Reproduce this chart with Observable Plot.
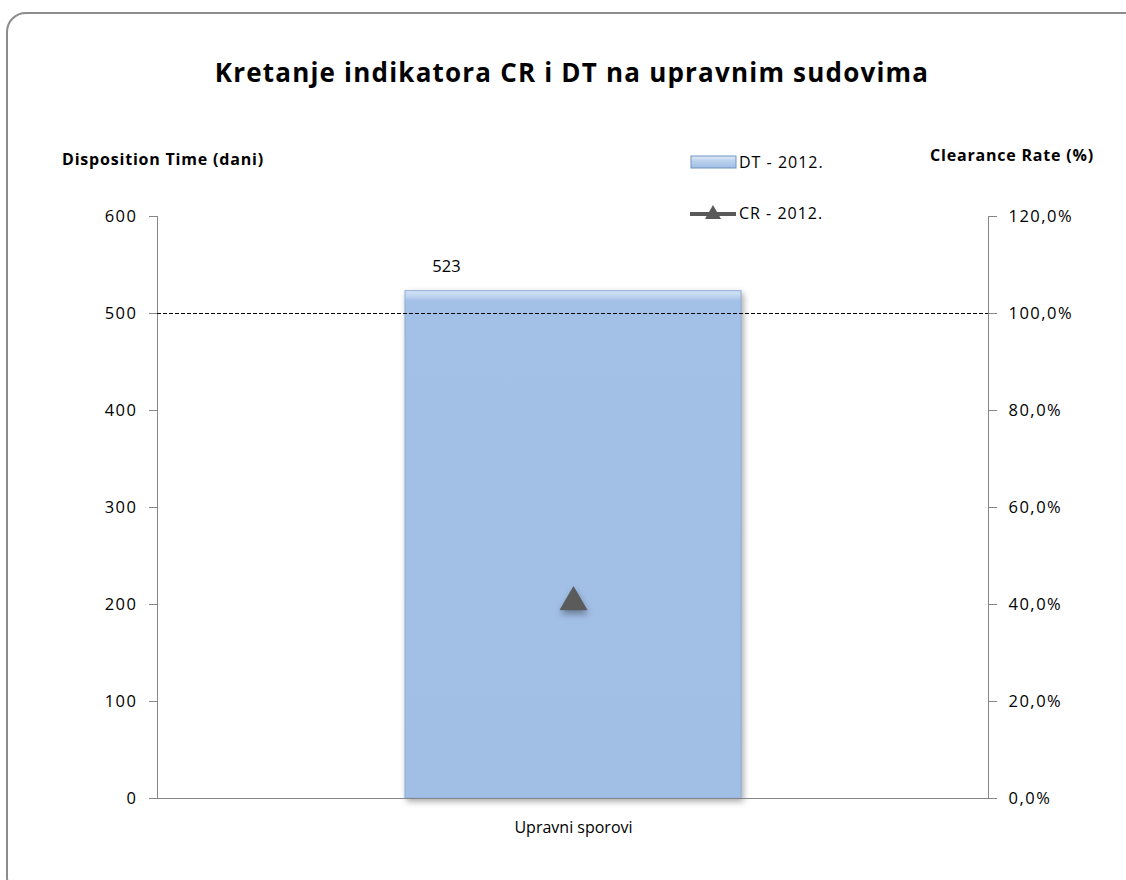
<!DOCTYPE html>
<html>
<head>
<meta charset="utf-8">
<script src="https://cdn.jsdelivr.net/npm/d3@7"></script>
<script src="https://cdn.jsdelivr.net/npm/@observablehq/plot@0.6"></script>
<style>
  html, body { margin: 0; padding: 0; background: #fff; }
  #wrap { position: relative; width: 1126px; height: 880px; overflow: hidden; font-family: "Open Sans", sans-serif; }
  #border { position: absolute; left: 6px; top: 12px; width: 1150px; height: 885px; border: 2px solid #8c8c8c; border-radius: 20px; box-sizing: border-box; }
  #title { position: absolute; left: 0; width: 1144px; top: 54px; text-align: center; font-weight: bold; font-size: 26px; letter-spacing: 1.2px; color: #000; }
  .axlab { position: absolute; font-weight: bold; font-size: 16px; letter-spacing: 0.8px; color: #000; }
  #chart { position: absolute; left: 0; top: 140px; }
  #chart svg [aria-label="y-axis tick"] { stroke: #868686; }
  #chart svg [aria-label="y-axis tick label"] { letter-spacing: 1.5px; }
  #chart svg [aria-label="bar"] rect { filter: drop-shadow(2px 3px 3px rgba(0,0,0,0.35)); }
  #chart svg [aria-label="dot"] path { filter: drop-shadow(1px 4px 3px rgba(0,0,0,0.35)); }
  .leg { position: absolute; font-size: 16px; letter-spacing: 1px; color: #000; display: flex; align-items: center; }
</style>
</head>
<body>
<svg width="0" height="0" style="position:absolute">
  <defs>
    <linearGradient id="barGrad" x1="0" y1="0" x2="0" y2="1">
      <stop offset="0" stop-color="#d3e3f6"/>
      <stop offset="0.012" stop-color="#bcd3ef"/>
      <stop offset="0.02" stop-color="#a3c0e6"/>
      <stop offset="1" stop-color="#a1bee5"/>
    </linearGradient>
    <linearGradient id="legGrad" x1="0" y1="0" x2="0" y2="1">
      <stop offset="0" stop-color="#e0ecf9"/>
      <stop offset="0.4" stop-color="#bcd2ee"/>
      <stop offset="1" stop-color="#a1bee5"/>
    </linearGradient>
  </defs>
</svg>
<div id="wrap">
  <div id="border"></div>
  <div id="title">Kretanje indikatora CR i DT na upravnim sudovima</div>
  <div class="axlab" style="left:62px; top:148px;">Disposition Time (dani)</div>
  <div class="axlab" style="left:930px; top:144px;">Clearance Rate (%)</div>
  <div class="leg" style="left:690px; top:151px;">
    <svg width="48" height="16"><rect x="1" y="2" width="45" height="12" fill="url(#legGrad)" stroke="#6f93c4" stroke-width="1"/></svg>
    <span style="margin-left:1px">DT - 2012.</span>
  </div>
  <div class="leg" style="left:690px; top:202px;">
    <svg width="48" height="18"><line x1="0" y1="10" x2="46" y2="10" stroke="#595959" stroke-width="4"/><path d="M23,1 L31,15 L15,15 Z" fill="#595959"/></svg>
    <span style="margin-left:1px">CR - 2012.</span>
  </div>
  <div id="chart"></div>
</div>
<script>
const categories = ["Upravni sporovi"];
const dtValues = [523];        // Disposition Time (dani)
const crValues = [40.5];       // Clearance Rate (%)
const crTarget = [100];        // reference line at 100%
const dtTicks = [0, 100, 200, 300, 400, 500, 600];
const crTicks = [0, 20, 40, 60, 80, 100, 120];

const scaleCR = 600 / 120; // right axis (0–120%) mapped onto left axis (0–600)
const data = categories.map((c, i) => ({cat: c, dt: dtValues[i], cr: crValues[i]}));

const chart = Plot.plot({
  width: 1126,
  height: 720,
  marginLeft: 157,
  marginRight: 138,
  marginTop: 76,
  marginBottom: 62,
  style: {fontFamily: "'Open Sans', sans-serif", fontSize: "16.5px", color: "#000", background: "transparent"},
  x: {domain: categories, padding: 0.424, axis: null},
  y: {domain: [0, 600], axis: null},
  marks: [
    Plot.axisY({anchor: "left", ticks: dtTicks, tickSize: 8, tickPadding: 12, tickFormat: d => String(d), label: null}),
    Plot.axisY({anchor: "right", ticks: crTicks.map(v => v * scaleCR), tickSize: 8, tickPadding: 12,
      tickFormat: d => (d / scaleCR).toFixed(1).replace(".", ",") + "%", label: null}),
    Plot.barY(data, {x: "cat", y: "dt", fill: "url(#barGrad)", stroke: "#8eaed9", strokeWidth: 1}),
    Plot.frame({anchor: "left", stroke: "#868686"}),
    Plot.frame({anchor: "right", stroke: "#868686"}),
    Plot.ruleY([0], {stroke: "#868686", strokeWidth: 1.2}),
    Plot.ruleY(crTarget, {y: d => d * scaleCR, stroke: "#000", strokeDasharray: "4,2", strokeWidth: 1}),
    Plot.text(data, {x: "cat", y: "dt", text: d => String(d.dt), dy: -24, dx: -127, fontSize: 16.5, letterSpacing: "1.5px"}),
    Plot.dot(data, {x: "cat", y: d => d.cr * scaleCR, symbol: "triangle", r: 10, fill: "#5b5b5b", stroke: "#4a4a4a", strokeWidth: 0.5}),
    Plot.text(categories, {x: d => d, frameAnchor: "bottom", dy: 34, text: d => d, fontSize: 16, letterSpacing: "0.8px"})
  ]
});
document.getElementById("chart").appendChild(chart);
</script>
</body>
</html>
